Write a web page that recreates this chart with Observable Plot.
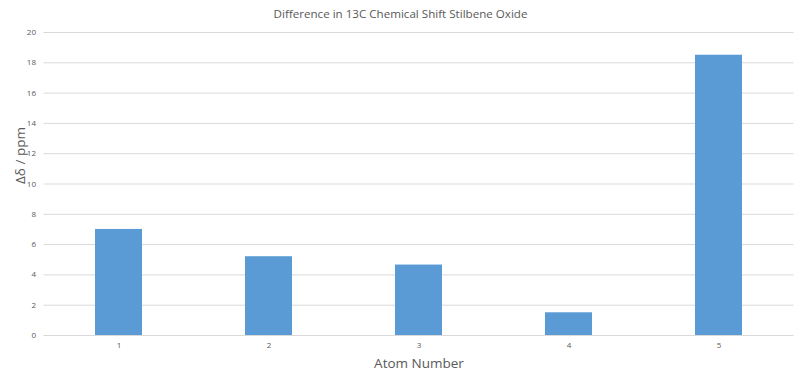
<!DOCTYPE html>
<html>
<head>
<meta charset="utf-8">
<script src="https://cdn.jsdelivr.net/npm/d3@7"></script>
<script src="https://cdn.jsdelivr.net/npm/@observablehq/plot@0.6"></script>
<style>
  html, body { margin: 0; padding: 0; background: #fff; }
  #chart svg { display: block; }
</style>
</head>
<body>
<div id="chart"></div>
<script>
const atoms = ["1", "2", "3", "4", "5"];
const deltas = [7.0, 5.2, 4.65, 1.5, 18.5];
const yTicks = [0, 2, 4, 6, 8, 10, 12, 14, 16, 18, 20];
const title = "Difference in 13C Chemical Shift Stilbene Oxide";
const xLabel = "Atom Number";
const yLabel = "Δδ / ppm";

const data = atoms.map((a, i) => ({atom: a, delta: deltas[i]}));

const textColor = "#595959";
const font = "'Open Sans', 'Noto Sans', sans-serif";

const chart = Plot.plot({
  width: 800,
  height: 381,
  marginTop: 32,
  marginBottom: 46,
  marginLeft: 43.5,
  marginRight: 6.5,
  style: {fontFamily: font, background: "#fff"},
  x: {domain: atoms, paddingInner: 0.687, paddingOuter: 0.3435, label: null},
  y: {domain: [0, 20], ticks: yTicks, label: null},
  marks: [
    Plot.gridY(yTicks, {stroke: "#d9d9d9", strokeOpacity: 1, strokeWidth: 1}),
    Plot.barY(data, {x: "atom", y: "delta", fill: "#5b9bd5"}),
    Plot.axisY(yTicks, {tickSize: 0, tickPadding: 8, fontSize: 8, fill: textColor, label: null}),
    Plot.axisX({tickSize: 0, tickPadding: 7, fontSize: 8, fill: textColor, label: null}),
    Plot.text([title], {frameAnchor: "top", dx: -18.5, dy: -18, fontSize: 11.6, fill: textColor, lineAnchor: "middle"}),
    Plot.text([xLabel], {frameAnchor: "bottom", dy: 28, fontSize: 13.5, fill: textColor, lineAnchor: "middle"}),
    Plot.text([yLabel], {frameAnchor: "left", dx: -23.5, rotate: -90, fontSize: 13.5, fill: textColor, lineAnchor: "middle"})
  ]
});
document.getElementById("chart").appendChild(chart);
</script>
</body>
</html>
